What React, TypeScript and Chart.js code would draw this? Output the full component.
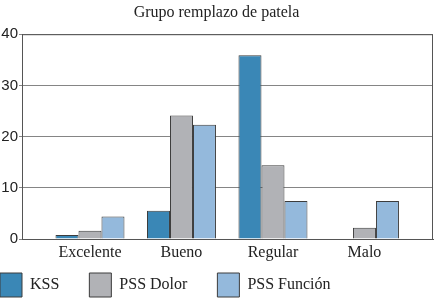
import React, { useEffect, useRef } from "react";
import { Chart, registerables } from "chart.js";

Chart.register(...registerables);

const title = "Grupo remplazo de patela";
const categories = ["Excelente", "Bueno", "Regular", "Malo"];
const seriesNames = ["KSS", "PSS Dolor", "PSS Función"];
const kss: (number | null)[] = [0.8, 5.5, 35.9, null];
const pssDolor: (number | null)[] = [1.6, 24.1, 14.4, 2.2];
const pssFuncion: (number | null)[] = [4.4, 22.3, 7.4, 7.4];
const yTicks = [0, 10, 20, 30, 40];

const colors = ["#3a87b6", "#b1b2b6", "#94b9dc"];
const LEGEND_PAD = 30;
const LEGEND_H = 25;

const frame = {
  id: "frame",
  beforeLayout(chart: any) {
    const lg = chart.legend;
    if (lg && !lg._patched) {
      const f = lg.fit.bind(lg);
      lg.fit = function () {
        f();
        this.height = LEGEND_H;
      };
      lg._patched = true;
    }
  },
  afterLayout(chart: any) {
    const lg = chart.legend;
    if (lg) {
      lg.left -= LEGEND_PAD;
      lg.top -= LEGEND_PAD;
    }
  },
  afterDatasetsDraw(chart: any) {
    const { ctx, chartArea } = chart;
    ctx.save();
    ctx.strokeStyle = "#555";
    ctx.lineWidth = 1;
    ctx.strokeRect(chartArea.left + 0.5, chartArea.top + 0.5, chartArea.right - chartArea.left - 1, chartArea.bottom - chartArea.top);
    ctx.restore();
  },
};

export default function App() {
  const ref = useRef<HTMLCanvasElement>(null);
  useEffect(() => {
    const series = [kss, pssDolor, pssFuncion];
    const chart = new Chart(ref.current!, {
      type: "bar",
      data: {
        datasets: series.map((s, k) => ({
          label: seriesNames[k],
          data: categories.map((_, i) => ({ x: i, y: s[i] })),
          backgroundColor: colors[k],
          borderColor: "#3c3c3c",
          borderWidth: 1,
          categoryPercentage: 0.754,
          barPercentage: 1,
        })),
      },
      options: {
        animation: false,
        responsive: false,
        layout: { padding: { left: 0, right: 2, top: 0, bottom: 0 } },
        plugins: {
          title: {
            display: true,
            text: title,
            color: "#222",
            font: { family: "Liberation Serif", size: 16, weight: "normal" },
            padding: { top: 3, bottom: 12 },
          },
          legend: {
            position: "bottom",
            align: "start",
            labels: {
              boxWidth: 22,
              boxHeight: 24,
              padding: LEGEND_PAD,
              color: "#222",
              font: { family: "Liberation Serif", size: 16 },
            },
          },
          tooltip: { enabled: false },
        },
        scales: {
          x: {
            type: "linear",
            offset: false,
            min: -0.743,
            max: 3.749,
            grid: { display: false },
            border: { display: true, color: "#555" },
            afterBuildTicks: (s: any) => {
              s.ticks = categories.map((_, i) => ({ value: i }));
            },
            afterFit: (s: any) => {
              s.height = 34;
            },
            ticks: {
              autoSkip: false,
              maxRotation: 0,
              padding: -4,
              color: "#222",
              font: { family: "Liberation Serif", size: 16 },
              callback: (v: any) => categories[v] ?? "",
            },
          },
          y: {
            min: 0,
            max: 40,
            afterBuildTicks: (s: any) => {
              s.ticks = yTicks.map((v) => ({ value: v }));
            },
            afterFit: (s: any) => {
              s.width = 22;
            },
            grid: { color: "#858585", lineWidth: 1, tickLength: 3 },
            border: { display: true, color: "#555" },
            ticks: {
              padding: 1,
              color: "#222",
              font: { family: "Liberation Sans", size: 15 },
            },
          },
        },
      },
      plugins: [frame],
    });
    return () => chart.destroy();
  }, []);
  return (
    <div style={{ position: "fixed", left: 0, top: 0, width: 435, height: 298, background: "#fff" }}>
      <canvas ref={ref} width={435} height={298} />
    </div>
  );
}
